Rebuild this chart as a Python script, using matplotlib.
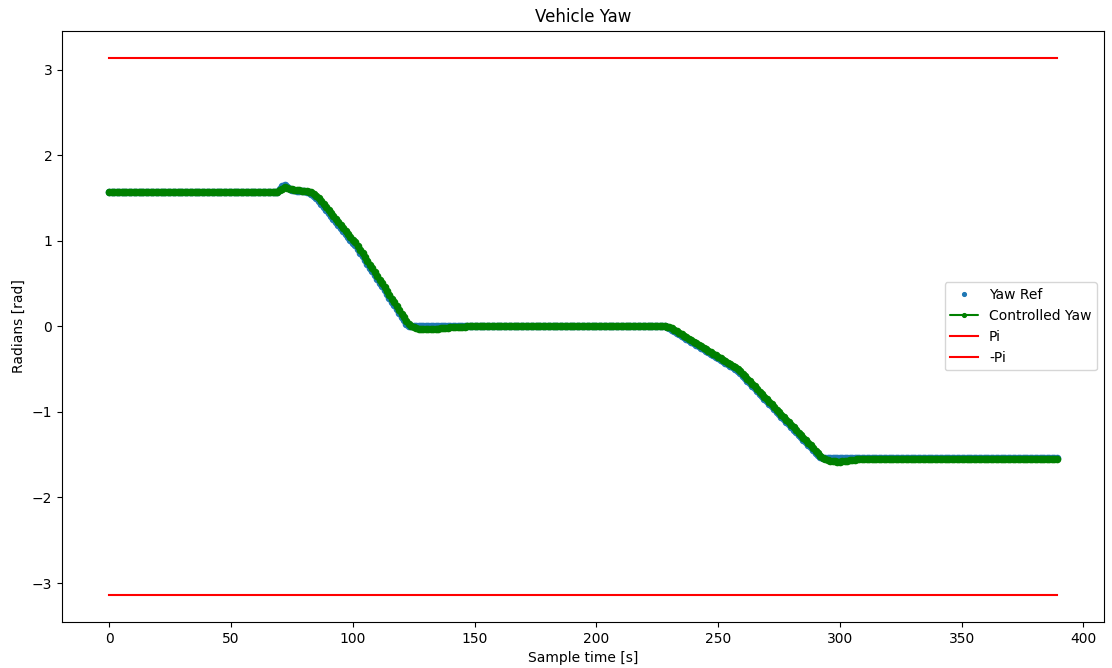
import numpy as np
import matplotlib
matplotlib.use("Agg")
import matplotlib.pyplot as plt

# Reference yaw [rad], one sample per second (row comments give the first sample index)
yaw_ref = [
    1.571, 1.571, 1.571, 1.571, 1.571, 1.571, 1.571, 1.571, 1.571, 1.571,  # 0
    1.571, 1.571, 1.571, 1.571, 1.571, 1.571, 1.571, 1.571, 1.571, 1.571,  # 10
    1.571, 1.571, 1.571, 1.571, 1.571, 1.571, 1.571, 1.571, 1.571, 1.571,  # 20
    1.571, 1.571, 1.571, 1.571, 1.571, 1.571, 1.571, 1.571, 1.571, 1.571,  # 30
    1.571, 1.571, 1.571, 1.571, 1.571, 1.571, 1.571, 1.571, 1.571, 1.571,  # 40
    1.571, 1.571, 1.571, 1.571, 1.571, 1.571, 1.571, 1.571, 1.571, 1.571,  # 50
    1.571, 1.571, 1.571, 1.571, 1.571, 1.571, 1.571, 1.571, 1.571, 1.571,  # 60
    1.600, 1.635, 1.650, 1.630, 1.605, 1.595, 1.590, 1.587, 1.584, 1.581,  # 70
    1.578, 1.575, 1.565, 1.550, 1.525, 1.500, 1.465, 1.430, 1.395, 1.360,  # 80
    1.325, 1.290, 1.255, 1.220, 1.185, 1.150, 1.115, 1.080, 1.045, 1.010,  # 90
    0.980, 0.950, 0.906, 0.862, 0.818, 0.774, 0.730, 0.686, 0.642, 0.598,  # 100
    0.554, 0.510, 0.466, 0.422, 0.378, 0.334, 0.290, 0.246, 0.202, 0.158,  # 110
    0.114, 0.070, 0.030, 0.005, 0.000, 0.000, 0.000, 0.000, 0.000, 0.000,  # 120
    0.000, 0.000, 0.000, 0.000, 0.000, 0.000, 0.000, 0.000, 0.000, 0.000,  # 130
    0.000, 0.000, 0.000, 0.000, 0.000, 0.000, 0.000, 0.000, 0.000, 0.000,  # 140
    0.000, 0.000, 0.000, 0.000, 0.000, 0.000, 0.000, 0.000, 0.000, 0.000,  # 150
    0.000, 0.000, 0.000, 0.000, 0.000, 0.000, 0.000, 0.000, 0.000, 0.000,  # 160
    0.000, 0.000, 0.000, 0.000, 0.000, 0.000, 0.000, 0.000, 0.000, 0.000,  # 170
    0.000, 0.000, 0.000, 0.000, 0.000, 0.000, 0.000, 0.000, 0.000, 0.000,  # 180
    0.000, 0.000, 0.000, 0.000, 0.000, 0.000, 0.000, 0.000, 0.000, 0.000,  # 190
    0.000, 0.000, 0.000, 0.000, 0.000, 0.000, 0.000, 0.000, 0.000, 0.000,  # 200
    0.000, 0.000, 0.000, 0.000, 0.000, 0.000, 0.000, 0.000, 0.000, 0.000,  # 210
    0.000, 0.000, 0.000, 0.000, 0.000, 0.000, 0.000, 0.000, 0.000, -0.008,  # 220
    -0.022, -0.040, -0.057, -0.075, -0.092, -0.110, -0.127, -0.145, -0.162, -0.180,  # 230
    -0.197, -0.215, -0.232, -0.250, -0.267, -0.285, -0.302, -0.320, -0.337, -0.355,  # 240
    -0.372, -0.390, -0.407, -0.425, -0.442, -0.460, -0.477, -0.495, -0.518, -0.546,  # 250
    -0.576, -0.606, -0.636, -0.666, -0.696, -0.726, -0.756, -0.786, -0.816, -0.846,  # 260
    -0.876, -0.906, -0.936, -0.966, -0.996, -1.026, -1.056, -1.086, -1.116, -1.146,  # 270
    -1.176, -1.206, -1.236, -1.266, -1.296, -1.326, -1.356, -1.386, -1.416, -1.446,  # 280
    -1.476, -1.505, -1.528, -1.540, -1.540, -1.540, -1.540, -1.540, -1.540, -1.540,  # 290
    -1.540, -1.540, -1.540, -1.540, -1.540, -1.540, -1.540, -1.540, -1.540, -1.540,  # 300
    -1.540, -1.540, -1.540, -1.540, -1.540, -1.540, -1.540, -1.540, -1.540, -1.540,  # 310
    -1.540, -1.540, -1.540, -1.540, -1.540, -1.540, -1.540, -1.540, -1.540, -1.540,  # 320
    -1.540, -1.540, -1.540, -1.540, -1.540, -1.540, -1.540, -1.540, -1.540, -1.540,  # 330
    -1.540, -1.540, -1.540, -1.540, -1.540, -1.540, -1.540, -1.540, -1.540, -1.540,  # 340
    -1.540, -1.540, -1.540, -1.540, -1.540, -1.540, -1.540, -1.540, -1.540, -1.540,  # 350
    -1.540, -1.540, -1.540, -1.540, -1.540, -1.540, -1.540, -1.540, -1.540, -1.540,  # 360
    -1.540, -1.540, -1.540, -1.540, -1.540, -1.540, -1.540, -1.540, -1.540, -1.540,  # 370
    -1.540, -1.540, -1.540, -1.540, -1.540, -1.540, -1.540, -1.540, -1.540, -1.540,  # 380
]

# Yaw reached by the controller [rad], one sample per second
controlled_yaw = [
    1.571, 1.571, 1.571, 1.571, 1.571, 1.571, 1.571, 1.571, 1.571, 1.571,  # 0
    1.571, 1.571, 1.571, 1.571, 1.571, 1.571, 1.571, 1.571, 1.571, 1.571,  # 10
    1.571, 1.571, 1.571, 1.571, 1.571, 1.571, 1.571, 1.571, 1.571, 1.571,  # 20
    1.571, 1.571, 1.571, 1.571, 1.571, 1.571, 1.571, 1.571, 1.571, 1.571,  # 30
    1.571, 1.571, 1.571, 1.571, 1.571, 1.571, 1.571, 1.571, 1.571, 1.571,  # 40
    1.571, 1.571, 1.571, 1.571, 1.571, 1.571, 1.571, 1.571, 1.571, 1.571,  # 50
    1.571, 1.571, 1.571, 1.571, 1.571, 1.571, 1.571, 1.571, 1.571, 1.575,  # 60
    1.590, 1.610, 1.625, 1.620, 1.605, 1.600, 1.595, 1.590, 1.588, 1.585,  # 70
    1.582, 1.580, 1.575, 1.565, 1.550, 1.525, 1.495, 1.460, 1.425, 1.390,  # 80
    1.355, 1.320, 1.285, 1.250, 1.215, 1.180, 1.145, 1.110, 1.075, 1.040,  # 90
    1.010, 0.985, 0.941, 0.897, 0.853, 0.809, 0.765, 0.721, 0.677, 0.633,  # 100
    0.589, 0.545, 0.501, 0.457, 0.413, 0.369, 0.325, 0.281, 0.237, 0.193,  # 110
    0.149, 0.105, 0.065, 0.030, 0.005, -0.012, -0.022, -0.028, -0.032, -0.034,  # 120
    -0.035, -0.035, -0.034, -0.032, -0.029, -0.026, -0.023, -0.020, -0.017, -0.014,  # 130
    -0.011, -0.009, -0.007, -0.005, -0.004, -0.003, -0.002, -0.001, 0.000, 0.000,  # 140
    0.000, 0.000, 0.000, 0.000, 0.000, 0.000, 0.000, 0.000, 0.000, 0.000,  # 150
    0.000, 0.000, 0.000, 0.000, 0.000, 0.000, 0.000, 0.000, 0.000, 0.000,  # 160
    0.000, 0.000, 0.000, 0.000, 0.000, 0.000, 0.000, 0.000, 0.000, 0.000,  # 170
    0.000, 0.000, 0.000, 0.000, 0.000, 0.000, 0.000, 0.000, 0.000, 0.000,  # 180
    0.000, 0.000, 0.000, 0.000, 0.000, 0.000, 0.000, 0.000, 0.000, 0.000,  # 190
    0.000, 0.000, 0.000, 0.000, 0.000, 0.000, 0.000, 0.000, 0.000, 0.000,  # 200
    0.000, 0.000, 0.000, 0.000, 0.000, 0.000, 0.000, 0.000, 0.000, 0.000,  # 210
    0.000, 0.000, 0.000, 0.000, 0.000, 0.000, 0.000, 0.000, 0.000, -0.002,  # 220
    -0.010, -0.025, -0.040, -0.058, -0.075, -0.093, -0.110, -0.128, -0.145, -0.163,  # 230
    -0.180, -0.198, -0.215, -0.233, -0.250, -0.268, -0.285, -0.303, -0.320, -0.338,  # 240
    -0.355, -0.373, -0.390, -0.408, -0.425, -0.443, -0.460, -0.478, -0.495, -0.522,  # 250
    -0.552, -0.582, -0.612, -0.642, -0.672, -0.702, -0.732, -0.762, -0.792, -0.822,  # 260
    -0.852, -0.882, -0.912, -0.942, -0.972, -1.002, -1.032, -1.062, -1.092, -1.122,  # 270
    -1.152, -1.182, -1.212, -1.242, -1.272, -1.302, -1.332, -1.362, -1.392, -1.422,  # 280
    -1.452, -1.482, -1.510, -1.535, -1.552, -1.563, -1.571, -1.576, -1.579, -1.580,  # 290
    -1.580, -1.579, -1.576, -1.572, -1.567, -1.562, -1.558, -1.555, -1.554, -1.553,  # 300
    -1.553, -1.553, -1.553, -1.553, -1.553, -1.553, -1.553, -1.553, -1.553, -1.553,  # 310
    -1.553, -1.553, -1.553, -1.553, -1.553, -1.553, -1.553, -1.553, -1.553, -1.553,  # 320
    -1.553, -1.553, -1.553, -1.553, -1.553, -1.553, -1.553, -1.553, -1.553, -1.553,  # 330
    -1.553, -1.553, -1.553, -1.553, -1.553, -1.553, -1.553, -1.553, -1.553, -1.553,  # 340
    -1.553, -1.553, -1.553, -1.553, -1.553, -1.553, -1.553, -1.553, -1.553, -1.553,  # 350
    -1.553, -1.553, -1.553, -1.553, -1.553, -1.553, -1.553, -1.553, -1.553, -1.553,  # 360
    -1.553, -1.553, -1.553, -1.553, -1.553, -1.553, -1.553, -1.553, -1.553, -1.553,  # 370
    -1.553, -1.553, -1.553, -1.553, -1.553, -1.553, -1.553, -1.553, -1.553, -1.553,  # 380
]

assert len(yaw_ref) == len(controlled_yaw) == 390, (len(yaw_ref), len(controlled_yaw))

ref_time = np.arange(len(yaw_ref))
ctrl_time = np.arange(len(controlled_yaw))

fig = plt.figure(figsize=(11.12, 6.68), dpi=100)
ax = fig.add_axes([62 / 1112, 1 - 622 / 668, (1104 - 62) / 1112, (622 - 30.7) / 668])

ax.plot(ref_time, yaw_ref, ".", color="tab:blue", markersize=9, label="Yaw Ref")
ax.plot(ctrl_time, controlled_yaw, ".-", color="green", markersize=9,
        linewidth=4, solid_capstyle="round", label="Controlled Yaw")
ax.plot(ctrl_time, np.full(len(ctrl_time), np.pi), color="red", label="Pi")
ax.plot(ctrl_time, np.full(len(ctrl_time), -np.pi), color="red", label="-Pi")

ax.set_title("Vehicle Yaw")
ax.set_xlabel("Sample time [s]")
ax.set_ylabel("Radians [rad]")
leg = ax.legend(loc="center right", markerscale=0.6)
# thin line in the legend key for the controlled trace
leg.legend_handles[1].set_linewidth(1.5)

fig.savefig("out.png", dpi=100)
